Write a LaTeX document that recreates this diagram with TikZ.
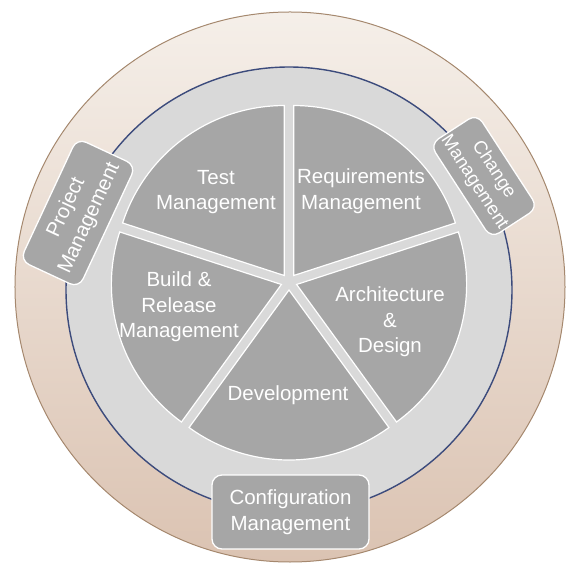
\documentclass[tikz,border=0pt]{standalone}
\usepackage{fontspec}
\setmainfont{Liberation Sans}
\usepackage{tikz}
\usetikzlibrary{positioning}

\definecolor{rimtop}{RGB}{245,239,233}
\definecolor{rimbot}{RGB}{219,195,178}
\definecolor{rimline}{RGB}{165,136,110}
\definecolor{ringfill}{RGB}{217,217,217}
\definecolor{ringline}{RGB}{60,75,124}
\definecolor{slice}{RGB}{166,166,166}

\begin{document}
\begin{tikzpicture}[x=1pt,y=1pt,
    wedge/.style={fill=slice,draw=white,line width=1.2pt},
    wlabel/.style={text=white,align=center,font=\fontsize{20.5}{25.5}\selectfont},
    box/.style={fill=slice,draw=white,line width=1.3pt,rounded corners=10pt,
        text=white,align=center,inner sep=0pt,font=\fontsize{20.5}{25.5}\selectfont}]
    \useasboundingbox (-289,-290) rectangle (277,282);
    \shadedraw[top color=rimtop,bottom color=rimbot,draw=rimline,line width=1pt] (1,-5) circle[radius=275];
    \filldraw[fill=ringfill,draw=ringline,line width=1.4pt] (0,-8) circle[radius=223];
    \foreach \a in {126,54,-18,-90,198}
        \filldraw[wedge] (\a:8) -- ++(\a-36:170) arc[start angle=\a-36,end angle=\a+36,radius=170] -- cycle;
    \node[wlabel] (test) at (-73,90) {Test\\Management};
    \node[wlabel] (req) at (72,91) {Requirements\\Management};
    \node[wlabel] (build) at (-110,-25) {Build \&\\Release\\Management};
    \node[wlabel] (arch) at (101,-40) {Architecture\\\&\\Design};
    \node[wlabel] (dev) at (-1,-113) {Development};
    \node[box,rotate=65,minimum width=135pt,minimum height=65pt] (pm) at (-211,69) {Project\\Management};
    \node[box,rotate=-57,minimum width=112pt,minimum height=56pt,font=\fontsize{18.5}{23}\selectfont] (cm) at (195,106) {Change\\Management};
    \node[box,minimum width=157pt,minimum height=74pt] (cfg) at (1.5,-230) {Configuration\\Management};
\end{tikzpicture}
\end{document}
